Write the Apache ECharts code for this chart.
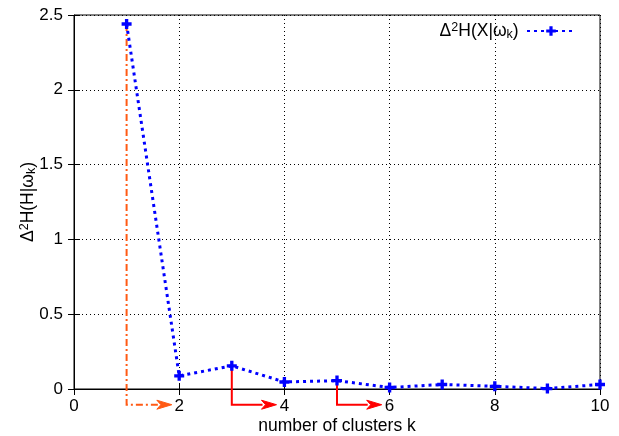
<!DOCTYPE html>
<html><head><meta charset="utf-8">
<script src="https://cdn.jsdelivr.net/npm/echarts@6/dist/echarts.min.js"></script>
<style>html,body{margin:0;padding:0;background:#fff}#c{width:619px;height:436px}</style>
</head><body><div id="c"></div>
<script>
// data
var kValues = [1, 2, 3, 4, 5, 6, 7, 8, 9, 10];
var deltaH = [2.44, 0.088, 0.155, 0.047, 0.056, 0.010, 0.030, 0.018, 0.003, 0.030];
var xTicks = [0, 2, 4, 6, 8, 10];
var yTicks = [0, 0.5, 1, 1.5, 2, 2.5];
// arrows: start (x, top y), end x, level below the axis
var arrowStartX = [1, 3, 5];
var arrowStartY = [2.44, 0.155, 0.056];
var arrowEndX = [1.86, 3.85, 5.85];
var arrowLevel = [-0.105, -0.105, -0.105];
var arrowKind = ['orange', 'red', 'red'];

var FONT = 'Liberation Sans';
var chart = echarts.init(document.getElementById('c'), null, {renderer: 'canvas'});
var arrowData = arrowStartX.map(function (x, i) {
  return [x, arrowStartY[i], arrowEndX[i], arrowLevel[i], i];
});
var rich = {
  m: {fontSize: 17.5, fontFamily: FONT, color: '#000', lineHeight: 20, verticalAlign: 'middle'},
  sup: {fontSize: 12.5, fontFamily: FONT, color: '#000', verticalAlign: 'top', lineHeight: 12},
  sub: {fontSize: 12.5, fontFamily: FONT, color: '#000', verticalAlign: 'bottom', lineHeight: 12}
};
chart.setOption({
  animation: false,
  grid: {left: 74, right: 19, top: 15, bottom: 47, outerBoundsMode: 'none', containLabel: false,
    show: true, borderColor: '#000', borderWidth: 1, backgroundColor: 'transparent'},
  legend: {
    show: true, right: 38, top: 16, align: 'right', itemWidth: 48, itemHeight: 12,
    data: ['s'],
    formatter: function () { return '{m|Δ}{sup|2}{m|H(X|ω}{sub|k}{m|)} '; },
    textStyle: {rich: rich}
  },
  xAxis: [{
    type: 'value', min: xTicks[0], max: xTicks[xTicks.length - 1], interval: 2,
    name: 'number of clusters k', nameLocation: 'middle', nameGap: 28, nameMoveOverlap: false,
    nameTextStyle: {fontSize: 17.5, fontFamily: FONT, color: '#000'},
    axisLine: {lineStyle: {color: '#000', width: 1}},
    axisTick: {inside: true, length: 6, lineStyle: {color: '#000'}},
    axisLabel: {fontSize: 17, fontFamily: FONT, color: '#000', margin: 9},
    splitLine: {show: true, lineStyle: {color: '#000', type: [1, 3], width: 1}}
  }, {
    type: 'value', position: 'top', min: xTicks[0], max: xTicks[xTicks.length - 1], interval: 2,
    axisLine: {show: false}, axisTick: {inside: true, length: 6, lineStyle: {color: '#000'}},
    axisLabel: {show: false}, splitLine: {show: false}
  }],
  yAxis: [{
    type: 'value', min: yTicks[0], max: yTicks[yTicks.length - 1], interval: 0.5,
    name: '{m|Δ}{sup|2}{m|H(H|ω}{sub|k}{m|)}', nameLocation: 'middle', nameGap: 36, nameRotate: 90,
    nameMoveOverlap: false,
    nameTextStyle: {rich: rich},
    axisLine: {show: true, lineStyle: {color: '#000', width: 1}},
    axisTick: {show: true, inside: true, length: 6, lineStyle: {color: '#000'}},
    axisLabel: {fontSize: 17, fontFamily: FONT, color: '#000', margin: 11},
    splitLine: {show: true, lineStyle: {color: '#000', type: [1, 3], width: 1}}
  }, {
    type: 'value', position: 'right', min: yTicks[0], max: yTicks[yTicks.length - 1], interval: 0.5,
    axisLine: {show: false}, axisTick: {show: true, inside: true, length: 6, lineStyle: {color: '#000'}},
    axisLabel: {show: false}, splitLine: {show: false}
  }],
  series: [{
    type: 'custom', name: 'arrows', clip: false, silent: true, z: 3,
    data: arrowData,
    renderItem: function (params, api) {
      var x0 = api.value(0), y0 = api.value(1), x1 = api.value(2), lv = api.value(3);
      var idx = api.value(4);
      var p0 = api.coord([x0, y0]);
      var p1 = api.coord([x0, lv]);
      var p2 = api.coord([x1, lv]);
      var orange = arrowKind[idx] === 'orange';
      var col = orange ? '#ff5a14' : '#ff0000';
      var headL = 15, headH = 4.5;
      var tip = p2[0];
      var lineEnd = tip - headL + 1;
      return {
        type: 'group',
        children: [{
          type: 'polyline',
          shape: {points: [p0, p1, [lineEnd, p1[1]]]},
          style: {stroke: col, lineWidth: 2, fill: null, lineDash: orange ? [7, 3, 2, 3] : null}
        }, {
          type: 'polygon',
          shape: {points: [[tip, p1[1]], [tip - headL, p1[1] - headH], [tip - headL + 4, p1[1]], [tip - headL, p1[1] + headH]]},
          style: {fill: col, stroke: col, lineWidth: 1}
        }]
      };
    }
  }, {
    type: 'line', name: 's', z: 4,
    data: kValues.map(function (k, i) { return [k, deltaH[i]]; }),
    symbol: 'path://M-1,-3L1,-3L1,-1L3,-1L3,1L1,1L1,3L-1,3L-1,1L-3,1L-3,-1L-1,-1Z',
    symbolSize: 10,
    itemStyle: {color: '#0000ff'},
    lineStyle: {color: '#0000ff', width: 3, type: [3, 4]}
  }]
});
</script></body></html>
